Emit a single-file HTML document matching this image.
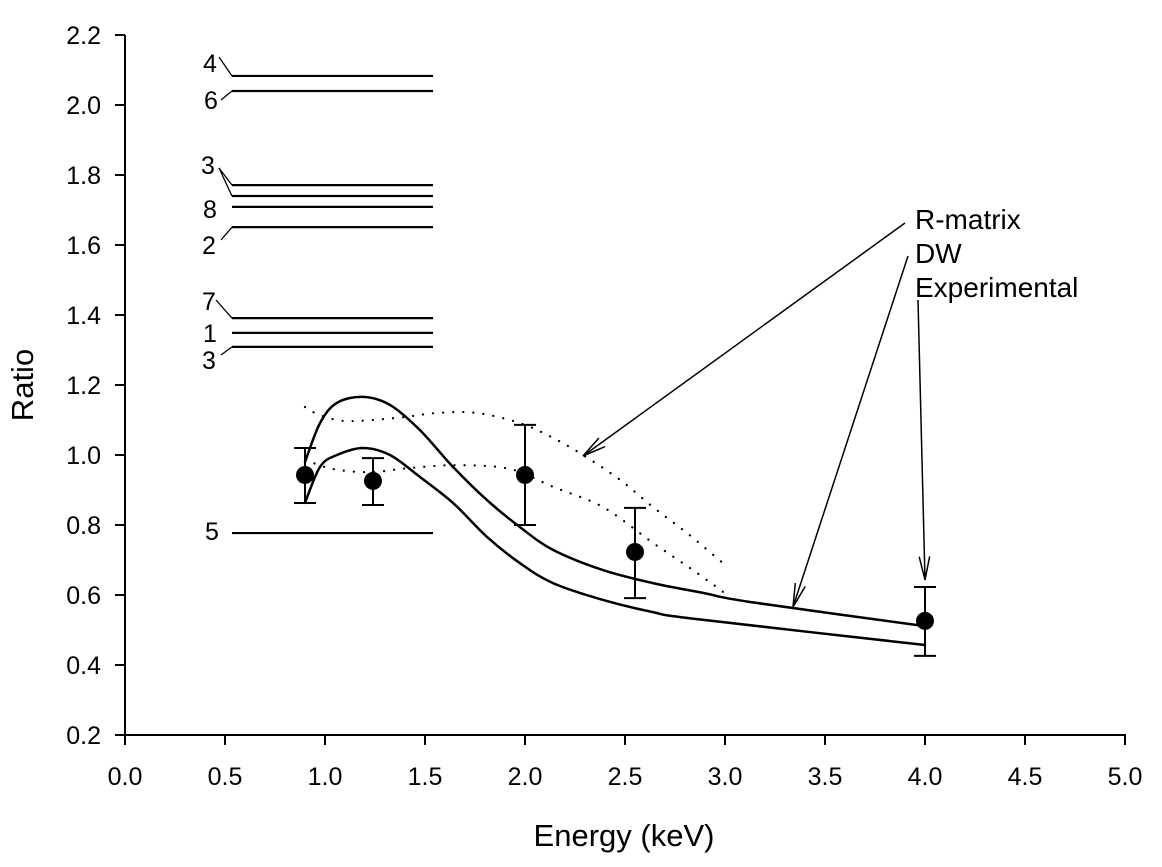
<!DOCTYPE html>
<html><head><meta charset="utf-8">
<style>
html,body{margin:0;padding:0;background:#fff;}
svg{display:block;font-family:"Liberation Sans",Arial,sans-serif;}
</style></head>
<body>
<svg id="chart" width="1162" height="867" viewBox="0 0 1162 867" xmlns="http://www.w3.org/2000/svg">
<g id="axes"></g>
<g id="plot"></g>
<text x="0" y="0" transform="translate(33,385) rotate(-90)" font-size="31" text-anchor="middle">Ratio</text>
<text x="624" y="846" font-size="31" text-anchor="middle">Energy (keV)</text>
</svg>
<script>
// ---- data ----
const xTicks = [0.0,0.5,1.0,1.5,2.0,2.5,3.0,3.5,4.0,4.5,5.0];
const xTickLabels = ["0.0","0.5","1.0","1.5","2.0","2.5","3.0","3.5","4.0","4.5","5.0"];
const yTicks = [0.2,0.4,0.6,0.8,1.0,1.2,1.4,1.6,1.8,2.0,2.2];
const yTickLabels = ["0.2","0.4","0.6","0.8","1.0","1.2","1.4","1.6","1.8","2.0","2.2"];

const levelValues = [2.083,2.04,1.771,1.74,1.709,1.651,1.391,1.349,1.309,0.777];
const levelStart = 0.535, levelEnd = 1.54;

const expE = [0.9,1.24,2.0,2.55,4.0];
const expR = [0.943,0.926,0.943,0.723,0.526];
const expLo = [0.863,0.857,0.8,0.591,0.426];
const expHi = [1.02,0.991,1.086,0.849,0.623];

const solidUpperE = [0.9,0.975,1.06,1.19,1.325,1.475,1.64,1.81,1.975,2.14,2.39,2.64,2.89,3.125,4.0];
const solidUpperR = [0.98,1.091,1.149,1.166,1.143,1.071,0.966,0.871,0.794,0.729,0.671,0.634,0.606,0.58,0.511];
const solidLowerE = [0.9,0.975,1.06,1.19,1.325,1.475,1.64,1.81,1.975,2.14,2.39,2.64,2.86,4.0];
const solidLowerR = [0.863,0.966,1.0,1.02,1.0,0.937,0.863,0.766,0.691,0.634,0.586,0.551,0.531,0.457];
const dotUpperE = [0.9,0.975,1.11,1.36,1.56,1.76,1.975,2.14,2.29,2.475,2.64,2.81,2.99];
const dotUpperR = [1.137,1.114,1.097,1.106,1.12,1.12,1.091,1.049,1.0,0.929,0.851,0.777,0.691];
const dotLowerE = [0.9,1.04,1.225,1.425,1.66,1.925,2.14,2.39,2.64,2.84,2.99];
const dotLowerR = [0.986,0.96,0.951,0.963,0.971,0.96,0.909,0.851,0.749,0.671,0.609];

// ---- scales ----
const X = e => 125 + 200*e;
const Y = r => 735 - 350*(r-0.2);
const NS = "http://www.w3.org/2000/svg";
function mk(tag, attrs, parent){
  const el = document.createElementNS(NS, tag);
  for (const k in attrs) el.setAttribute(k, attrs[k]);
  parent.appendChild(el);
  return el;
}
const axes = document.getElementById('axes');
const plot = document.getElementById('plot');

let a = mk('line',{x1:125,y1:35,x2:125,y2:736,stroke:'#000','stroke-width':2},axes);


a = mk('line',{x1:124,y1:735,x2:1126,y2:735,stroke:'#000','stroke-width':2},axes);



xTicks.forEach((v,i)=>{
  const t = mk('line',{x1:X(v),y1:735,x2:X(v),y2:745,stroke:'#000','stroke-width':2},axes);
  
  
  const l = mk('text',{x:X(v),y:785,'font-size':25,'text-anchor':'middle'},axes);
  l.textContent = xTickLabels[i];
  
  
});
yTicks.forEach((v,i)=>{
  const t = mk('line',{x1:115,y1:Y(v),x2:125,y2:Y(v),stroke:'#000','stroke-width':2},axes);
  
  
  const l = mk('text',{x:101,y:Y(v)+9,'font-size':25,'text-anchor':'end'},axes);
  l.textContent = yTickLabels[i];
  
  
});

// level lines
levelValues.forEach((v)=>{
  const l = mk('line',{x1:X(levelStart),y1:Y(v),x2:X(levelEnd),y2:Y(v),stroke:'#000','stroke-width':2.2},plot);
  
  
});
// level labels & callouts
const labels = [["4",210,72],["6",211,109],["3",208,174],["8",210,218],["2",209,254],["7",209,310],["1",210,342],["3",209,369],["5",212,540]];
labels.forEach(d=>{
  const t = mk('text',{x:d[1],y:d[2],'font-size':25,'text-anchor':'middle'},plot);
  t.textContent = d[0];
  
  
});
const callouts = [[219,57,X(levelStart),Y(levelValues[0])],[221,100,X(levelStart),Y(levelValues[1])],[219,168,X(levelStart),Y(levelValues[2])],[219,168,X(levelStart),Y(levelValues[3])],[221,240,X(levelStart),Y(levelValues[5])],[216,300,X(levelStart),Y(levelValues[6])],[221,355,X(levelStart),Y(levelValues[8])]];
callouts.forEach(c=>{
  const l = mk('line',{x1:c[0],y1:c[1],x2:c[2],y2:c[3],stroke:'#000','stroke-width':1.3},plot);
  
  
});

function curve(E,R,name,dash){
  const P = E.map((e,i)=>[X(e),Y(R[i])]);
  let d = 'M'+P[0][0].toFixed(1)+','+P[0][1].toFixed(1);
  for(let i=0;i<P.length-1;i++){
    const p0=P[Math.max(0,i-1)], p1=P[i], p2=P[i+1], p3=P[Math.min(P.length-1,i+2)];
    const c1=[p1[0]+(p2[0]-p0[0])/6, p1[1]+(p2[1]-p0[1])/6];
    const c2=[p2[0]-(p3[0]-p1[0])/6, p2[1]-(p3[1]-p1[1])/6];
    d += ` C${c1[0].toFixed(1)},${c1[1].toFixed(1)} ${c2[0].toFixed(1)},${c2[1].toFixed(1)} ${p2[0].toFixed(1)},${p2[1].toFixed(1)}`;
  }
  const p = mk('path',{d:d,fill:'none',stroke:'#000','stroke-width':dash?2.2:2.5,'stroke-linejoin':'round','stroke-linecap':'round'},plot);
  if(dash) p.setAttribute('stroke-dasharray','0.1 10');
  
  
}
curve(solidUpperE,solidUpperR,'dw-curve-upper',false);
curve(solidLowerE,solidLowerR,'dw-curve-lower',false);
curve(dotUpperE,dotUpperR,'rmatrix-curve-upper',true);
curve(dotLowerE,dotLowerR,'rmatrix-curve-lower',true);

// experimental points
expE.forEach((e,i)=>{
  const x = X(e);
  const eb = mk('path',{d:`M${x},${Y(expLo[i])} L${x},${Y(expHi[i])} M${x-11},${Y(expLo[i])} L${x+11},${Y(expLo[i])} M${x-11},${Y(expHi[i])} L${x+11},${Y(expHi[i])}`,stroke:'#000','stroke-width':2,fill:'none'},plot);
  
  
  const c = mk('circle',{cx:x,cy:Y(expR[i]),r:9,fill:'#000'},plot);
  
  
});

// annotations
const ann = [["R-matrix",229],["DW",263],["Experimental",297]];
ann.forEach(a=>{
  const t = mk('text',{x:915,y:a[1],'font-size':28},plot);
  t.textContent = a[0];
  
  
});
function arrow(x1,y1,x2,y2){
  const ang = Math.atan2(y2-y1,x2-x1), L=24, w=0.22;
  const ax = x2 - L*Math.cos(ang-w), ay = y2 - L*Math.sin(ang-w);
  const bx = x2 - L*Math.cos(ang+w), by = y2 - L*Math.sin(ang+w);
  const p = mk('path',{d:`M${x1},${y1} L${x2},${y2} M${ax},${ay} L${x2},${y2} L${bx},${by}`,stroke:'#000','stroke-width':1.5,fill:'none'},plot);
  
  
}
arrow(905,223,583,456);
arrow(908,256,793,607);
arrow(918,300,925,580);
</script>
</body></html>
